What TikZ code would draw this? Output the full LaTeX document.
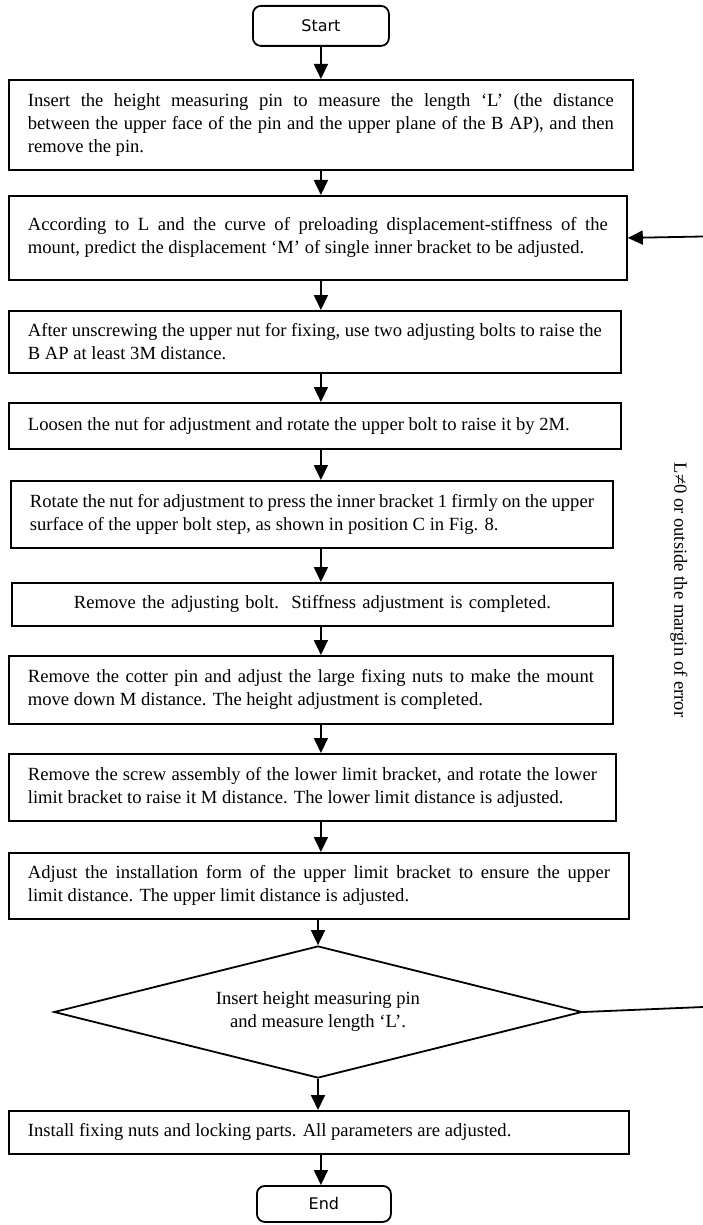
\documentclass[tikz,border=0pt]{standalone}
\usepackage{fontspec}
\setmainfont{Liberation Serif}
\newfontfamily\sansf{DejaVu Sans}
\usetikzlibrary{shapes.geometric,arrows.meta}
\newcommand\mainfs{\fontsize{18.6}{23}\selectfont}
\newcommand\termfs{\sansf\fontsize{16}{19}\selectfont}
\tikzset{
  box/.style={draw, line width=1.8pt, inner xsep=19pt, inner ysep=0pt, align=justify, font=\mainfs, anchor=north west},
  term/.style={draw, line width=1.8pt, rounded corners=8pt, font=\termfs, anchor=north west, inner sep=0pt},
  arr/.style={line width=1.8pt, -{Triangle[length=15pt,width=14pt]}},
  plain/.style={line width=1.8pt},
}
\begin{document}
\begin{tikzpicture}[x=1pt,y=-1pt]
\useasboundingbox (0,0) rectangle (703,1225);
\node[term, minimum width=136pt, minimum height=40pt] (st) at (252,5) {Start};
\node[box, text width=586pt, minimum height=90pt] (b1) at (8,79) {Insert the height measuring pin to measure the length ‘L’ (the distance\linebreak between the upper face of the pin and the upper plane of the B AP), and then\linebreak remove the pin.};
\node[box, text width=580pt, minimum height=84pt] (b2) at (8,195) {According to L and the curve of preloading displacement-stiffness of the\linebreak mount, predict the displacement ‘M’ of single inner bracket to be adjusted.};
\node[box, text width=574pt, minimum height=62pt] (b3) at (8,310) {After unscrewing the upper nut for fixing, use two adjusting bolts to raise the\linebreak B AP at least 3M distance.};
\node[box, text width=574pt, minimum height=46pt] (b4) at (8,402) {Loosen the nut for adjustment and rotate the upper bolt to raise it by 2M.};
\node[box, text width=564pt, minimum height=67pt] (b5) at (10,480) {Rotate the nut for adjustment to press the inner bracket 1 firmly on the upper\linebreak surface of the upper bolt step, as shown in position C in Fig. 8.};
\node[box, align=center, text width=563pt, minimum height=43pt] (b6) at (11,582) {Remove the adjusting bolt.\ \ Stiffness adjustment is completed.};
\node[box, text width=566pt, minimum height=68pt] (b7) at (8,655) {Remove the cotter pin and adjust the large fixing nuts to make the mount\linebreak move down M distance. The height adjustment is completed.};
\node[box, text width=569pt, minimum height=67pt] (b8) at (8,753) {Remove the screw assembly of the lower limit bracket, and rotate the lower\linebreak limit bracket to raise it M distance. The lower limit distance is adjusted.};
\node[box, text width=582pt, minimum height=66pt] (b9) at (8,852) {Adjust the installation form of the upper limit bracket to ensure the upper\linebreak limit distance. The upper limit distance is adjusted.};
\node[diamond, draw, line width=1.8pt, minimum width=528pt, minimum height=132pt, inner sep=0pt, aspect=4, align=center, font=\mainfs] (dec) at (318,1012) {Insert height measuring pin\\and measure length ‘L’.};
\node[box, text width=582pt, minimum height=43pt] (b10) at (8,1110) {Install fixing nuts and locking parts. All parameters are adjusted.};
\node[term, minimum width=134pt, minimum height=36pt] (en) at (256,1185) {End};
\node[rotate=-90, font=\mainfs] (lbl) at (679,590) {L≠0 or outside the margin of error};
\coordinate (r1) at (703,1007);
\coordinate (r2) at (703,236.5);
\draw[arr] (st.south) -- (st.south |- b1.north);
\draw[arr] (b1.south -| st.south) -- (st.south |- b2.north);
\draw[arr] (b2.south -| st.south) -- (st.south |- b3.north);
\draw[arr] (b3.south -| st.south) -- (st.south |- b4.north);
\draw[arr] (b4.south -| st.south) -- (st.south |- b5.north);
\draw[arr] (b5.south -| st.south) -- (st.south |- b6.north);
\draw[arr] (b6.south -| st.south) -- (st.south |- b7.north);
\draw[arr] (b7.south -| st.south) -- (st.south |- b8.north);
\draw[arr] (b8.south -| st.south) -- (st.south |- b9.north);
\draw[arr] (b9.south -| dec.north) -- (dec.north);
\draw[arr] (dec.south) -- (dec.south |- b10.north);
\draw[arr] (b10.south -| st.south) -- (st.south |- en.north);
\draw[plain] (dec.east) -- (r1);
\draw[arr] (r2) -- (b2.east);
\end{tikzpicture}
\end{document}
